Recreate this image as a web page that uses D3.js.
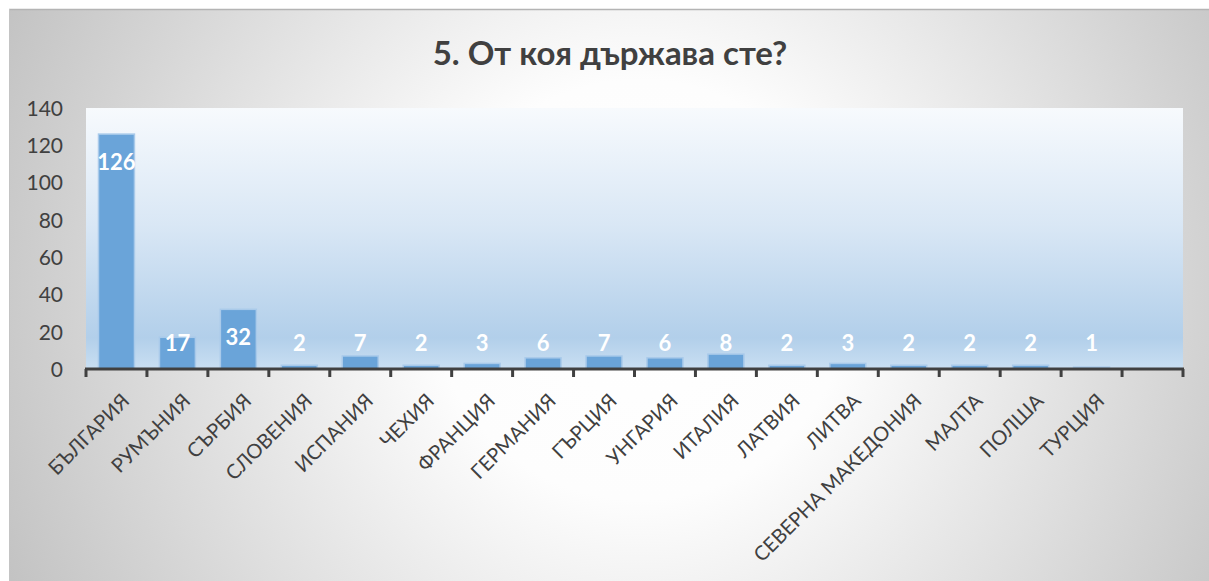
<!DOCTYPE html>
<html><head><meta charset="utf-8">
<script src="https://cdn.jsdelivr.net/npm/d3@7"></script>
<style>
html,body{margin:0;padding:0;background:#fff;}
svg{display:block;font-family:Lato, "Open Sans", sans-serif;}
</style></head>
<body>
<svg id="chart" width="1209" height="581"></svg>
<script>
const title = "5. От коя държава сте?";
const categories = ["БЪЛГАРИЯ","РУМЪНИЯ","СЪРБИЯ","СЛОВЕНИЯ","ИСПАНИЯ","ЧЕХИЯ","ФРАНЦИЯ","ГЕРМАНИЯ","ГЪРЦИЯ","УНГАРИЯ","ИТАЛИЯ","ЛАТВИЯ","ЛИТВА","СЕВЕРНА МАКЕДОНИЯ","МАЛТА","ПОЛША","ТУРЦИЯ",""];
const values = [126,17,32,2,7,2,3,6,7,6,8,2,3,2,2,2,1,null];
const yTicks = [0,20,40,60,80,100,120,140];

(function(){
const svg = d3.select("#chart");
const defs = svg.append("defs");
const bg = defs.append("radialGradient").attr("id","bgGrad")
  .attr("gradientUnits","userSpaceOnUse").attr("cx",640).attr("cy",290).attr("r",700);
bg.append("stop").attr("offset",0).attr("stop-color","#ffffff");
bg.append("stop").attr("offset",0.3).attr("stop-color","#fdfdfd");
bg.append("stop").attr("offset",1).attr("stop-color","#c2c2c2");
const pg = defs.append("linearGradient").attr("id","plotGrad").attr("x1",0).attr("y1",0).attr("x2",0).attr("y2",1);
pg.append("stop").attr("offset",0).attr("stop-color","#f7fafd");
pg.append("stop").attr("offset",0.45).attr("stop-color","#d9e7f5");
pg.append("stop").attr("offset",0.88).attr("stop-color","#b2cfea");
pg.append("stop").attr("offset",1).attr("stop-color","#c9dff2");

svg.append("rect").attr("x",9).attr("y",9).attr("width",1210).attr("height",580).attr("fill","url(#bgGrad)");
svg.append("line").attr("x1",9).attr("x2",1209).attr("y1",9.5).attr("y2",9.5).attr("stroke","#b4b4b4").attr("stroke-width",1.5);
svg.append("line").attr("x1",9.5).attr("x2",9.5).attr("y1",9).attr("y2",581).attr("stroke","#c4c4c4").attr("stroke-width",1);

const pLeft = 86, pRight = 1183, pTop = 108, pBottom = 369;
const x = d3.scaleBand().domain(categories.map((c,i)=>i)).range([pLeft,pRight]).paddingInner(0.41).paddingOuter(0.205);
const y = d3.scaleLinear().domain([0,140]).range([pBottom,pTop]);

svg.append("rect").attr("x",pLeft).attr("y",pTop).attr("width",pRight-pLeft).attr("height",pBottom-pTop).attr("fill","url(#plotGrad)");

svg.append("text").attr("x",610).attr("y",65).attr("text-anchor","middle")
  .attr("font-size",33).attr("font-weight","bold").attr("fill","#404040").text(title);

const data = categories.map((c,i)=>({c,i,v:values[i]})).filter(d=>d.v!=null);
svg.append("g").selectAll("rect").data(data).join("rect")
  .attr("x",d=>x(d.i)).attr("width",x.bandwidth())
  .attr("y",d=>y(d.v)).attr("height",d=>y(0)-y(d.v))
  .attr("fill","#6aa4d9").attr("stroke","#a9caea").attr("stroke-width",1.5);

svg.append("g").selectAll("text").data(data).join("text")
  .attr("x",d=>x(d.i)+x.bandwidth()/2)
  .attr("y",d=>Math.min(y(d.v)+36,351))
  .attr("text-anchor","middle").attr("font-size",22).attr("font-weight","bold").attr("fill","#ffffff")
  .text(d=>d.v);

const yAxis = d3.axisLeft(y).tickValues(yTicks).tickSize(0).tickPadding(0);
const gy = svg.append("g").attr("transform","translate(63,0)").call(yAxis);
gy.select(".domain").remove();
gy.selectAll("text").attr("font-size",21).attr("fill","#404040").attr("font-family","Lato, 'Open Sans', sans-serif").attr("dy","0.35em");

const step = x.step();
const gx = svg.append("g");
gx.append("line").attr("x1",pLeft-1).attr("x2",pRight+1).attr("y1",pBottom).attr("y2",pBottom).attr("stroke","#404040").attr("stroke-width",3);
const tickPos = d3.range(categories.length+1).map(i=>pLeft+i*step);
gx.selectAll("line.t").data(tickPos).join("line").attr("class","t")
  .attr("x1",d=>d).attr("x2",d=>d).attr("y1",pBottom).attr("y2",pBottom+8)
  .attr("stroke","#404040").attr("stroke-width",3);
gx.selectAll("text").data(categories.map((c,i)=>({c,i}))).join("text")
  .attr("transform",d=>`translate(${x(d.i)+x.bandwidth()/2+4},${392}) rotate(-45)`)
  .attr("text-anchor","end").attr("dy","0.72em")
  .attr("font-size",20).attr("fill","#404040").text(d=>d.c);
})();
</script>
</body></html>
